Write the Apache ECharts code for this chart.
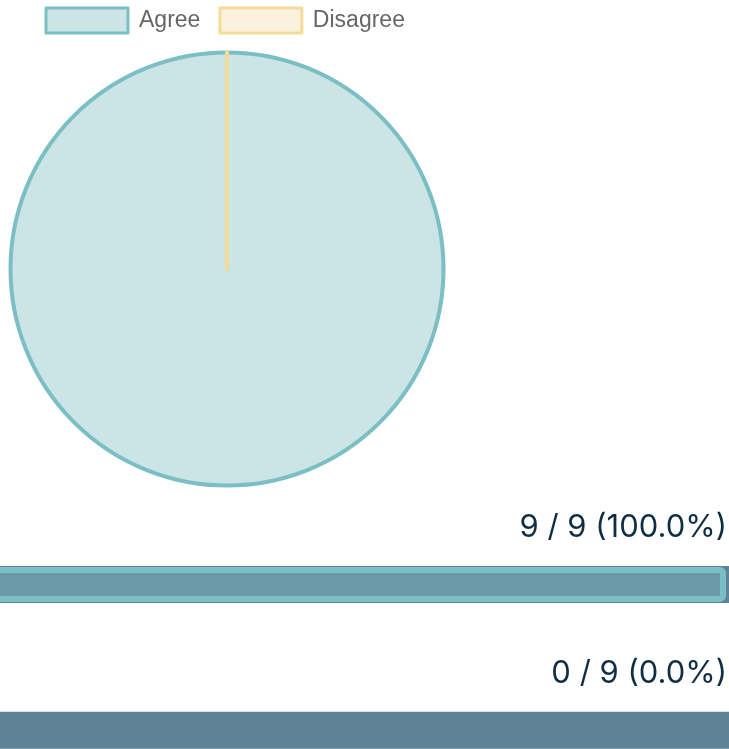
<!DOCTYPE html>
<html>
<head>
<meta charset="utf-8">
<style>html,body{margin:0;padding:0;background:#fff;overflow:hidden;}#c{position:absolute;left:-7px;top:0;width:739px;height:803px;}</style>
<script src="https://cdn.jsdelivr.net/npm/echarts@6/dist/echarts.min.js"></script>
</head>
<body>
<div id="c"></div>
<script>
const categories = ['Agree', 'Disagree'];
const counts = [9, 0];
const totals = [9, 9];

const teal = '#7bbec3', tealFill = '#cbe5e6';
const yellow = '#f3dc98', yellowFill = '#faf2dc';

const chart = echarts.init(document.getElementById('c'));
const pct = (i) => (counts[i] / totals[i] * 100).toFixed(1);
const maxTotal = Math.max(...totals);

chart.setOption({
  animation: false,
  legend: {
    left: 51.5, top: 6.5, padding: 0,
    itemWidth: 82, itemHeight: 25, itemGap: 18,
    selectedMode: false,
    textStyle: { fontFamily: 'Liberation Sans, Arial, sans-serif', fontSize: 23, color: '#666', padding: [0, 0, 0, 6] },
    data: [
      { name: categories[0], icon: 'rect', itemStyle: { color: tealFill, borderColor: teal, borderWidth: 3 } },
      { name: categories[1], icon: 'rect', itemStyle: { color: yellowFill, borderColor: yellow, borderWidth: 3 } }
    ]
  },
  grid: [
    { left: 0, width: 739, top: 511.5, height: 292 },
    { left: 0, width: 733, top: 511.5, height: 292 }
  ],
  xAxis: [
    { type: 'value', gridIndex: 0, min: 0, max: maxTotal, show: false },
    { type: 'value', gridIndex: 1, min: 0, max: maxTotal, show: false }
  ],
  yAxis: [
    { type: 'category', gridIndex: 0, data: categories, inverse: true, show: false },
    { type: 'category', gridIndex: 1, data: categories, inverse: true, show: false }
  ],
  series: [
    {
      type: 'pie',
      center: [234, 269],
      radius: 216.5,
      silent: true,
      label: { show: false },
      labelLine: { show: false },
      data: categories.map((c, i) => ({
        name: c, value: counts[i],
        itemStyle: { color: i === 0 ? tealFill : yellowFill, borderColor: i === 0 ? teal : yellow, borderWidth: 4 }
      }))
    },
    {
      type: 'bar',
      silent: true,
      xAxisIndex: 0, yAxisIndex: 0,
      barWidth: 37,
      itemStyle: { color: '#5e8397' },
      data: totals,
      label: {
        show: true,
        position: ['100%', 0],
        align: 'right',
        verticalAlign: 'middle',
        offset: [-5, -38],
        fontFamily: 'Inter, sans-serif',
        fontSize: 31,
        color: '#0f2e44',
        formatter: (p) => counts[p.dataIndex] + ' / ' + totals[p.dataIndex] + ' (' + pct(p.dataIndex) + '%)'
      }
    },
    {
      type: 'bar',
      silent: true,
      xAxisIndex: 1, yAxisIndex: 1,
      barWidth: 35,
      itemStyle: { color: '#6a99a8', borderColor: teal, borderWidth: 6, borderRadius: 3 },
      data: counts.map(v => v === 0 ? { value: 0, itemStyle: { borderWidth: 0 } } : v)
    }
  ]
});
</script>
</body>
</html>
